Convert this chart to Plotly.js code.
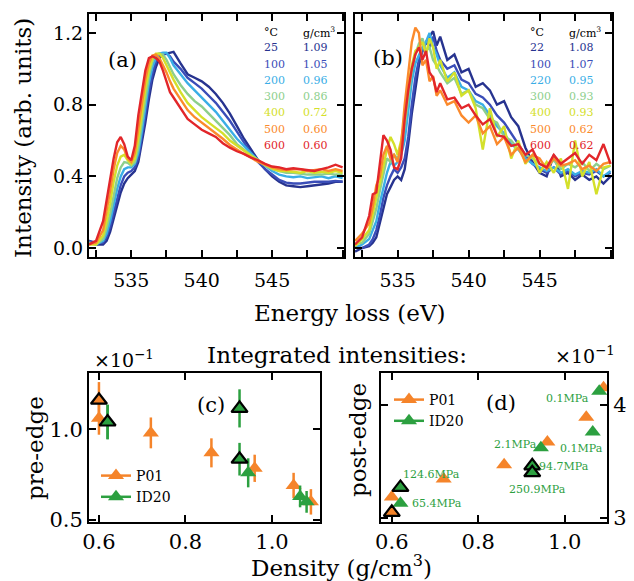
<!DOCTYPE html>
<html><head><meta charset="utf-8">
<script src="https://cdn.plot.ly/plotly-3.0.1.min.js"></script>
<style>html,body{margin:0;padding:0;background:#fff}#chart{width:634px;height:581px}</style>
</head><body><div id="chart"></div>
<script>
// ---------- data ----------
const energy = [532, 532.5, 533, 533.25, 533.5, 533.75, 534, 534.25, 534.5, 534.75, 535, 535.25, 535.5, 535.75, 536, 536.25, 536.5, 536.75, 537, 537.25, 537.5, 537.75, 538, 538.5, 539, 539.5, 540, 540.5, 541, 541.5, 542, 542.5, 543, 543.5, 544, 544.5, 545, 545.5, 546, 546.5, 547, 547.5, 548, 548.5, 549, 549.5, 550];
const energyTicks = [535, 540, 545];

// panel (a): P01 spectra
const tempsA = ['25', '100', '200', '300', '400', '500', '600'];
const densA = ['1.09', '1.05', '0.96', '0.86', '0.72', '0.60', '0.60'];
const a25  = [0.04,0.02,0.02,0.04,0.09,0.16,0.24,0.31,0.36,0.39,0.41,0.43,0.48,0.58,0.70,0.83,0.94,1.01,1.06,1.08,1.085,1.09,1.095,1.03,0.97,0.95,0.93,0.90,0.86,0.81,0.75,0.68,0.61,0.55,0.49,0.44,0.40,0.37,0.35,0.345,0.34,0.345,0.35,0.355,0.36,0.37,0.37];
const a100 = [0.04,0.03,0.03,0.06,0.12,0.20,0.28,0.35,0.40,0.42,0.43,0.45,0.50,0.61,0.74,0.87,0.97,1.04,1.075,1.085,1.085,1.07,1.04,1.00,0.95,0.92,0.89,0.85,0.81,0.76,0.71,0.65,0.59,0.53,0.48,0.44,0.41,0.38,0.365,0.36,0.36,0.365,0.37,0.37,0.37,0.375,0.37];
const a200 = [0.03,0.02,0.04,0.08,0.15,0.24,0.33,0.40,0.44,0.45,0.45,0.47,0.53,0.65,0.79,0.92,1.01,1.06,1.085,1.09,1.09,1.06,1.02,0.97,0.92,0.88,0.84,0.80,0.76,0.71,0.66,0.61,0.57,0.53,0.49,0.46,0.43,0.41,0.40,0.395,0.40,0.39,0.395,0.40,0.39,0.40,0.39];
const a300 = [0.03,0.02,0.05,0.11,0.19,0.30,0.39,0.45,0.48,0.475,0.46,0.48,0.56,0.70,0.84,0.96,1.04,1.08,1.085,1.08,1.05,1.01,0.97,0.91,0.86,0.82,0.79,0.75,0.71,0.67,0.63,0.58,0.55,0.52,0.49,0.46,0.44,0.43,0.42,0.42,0.415,0.41,0.41,0.41,0.415,0.41,0.41];
const a400 = [0.02,0.02,0.07,0.15,0.25,0.37,0.46,0.51,0.52,0.49,0.47,0.50,0.61,0.75,0.89,0.99,1.06,1.085,1.085,1.06,1.02,0.98,0.94,0.87,0.81,0.77,0.73,0.70,0.67,0.64,0.60,0.57,0.54,0.515,0.49,0.465,0.445,0.43,0.43,0.425,0.42,0.43,0.42,0.425,0.42,0.43,0.42];
const a500 = [0.02,0.03,0.10,0.20,0.32,0.44,0.53,0.57,0.55,0.50,0.48,0.53,0.67,0.81,0.94,1.03,1.075,1.08,1.06,1.02,0.98,0.93,0.89,0.83,0.77,0.73,0.70,0.67,0.645,0.61,0.575,0.55,0.525,0.505,0.48,0.465,0.45,0.44,0.435,0.44,0.44,0.43,0.435,0.44,0.43,0.44,0.43];
const a600 = [0.02,0.04,0.15,0.27,0.38,0.50,0.59,0.62,0.58,0.51,0.49,0.57,0.74,0.87,0.99,1.06,1.07,1.06,1.04,0.99,0.93,0.87,0.84,0.78,0.72,0.69,0.66,0.64,0.62,0.585,0.56,0.54,0.525,0.505,0.49,0.47,0.455,0.45,0.44,0.445,0.44,0.435,0.43,0.44,0.45,0.465,0.45];

// panel (b): ID20 spectra
const tempsB = ['22', '100', '220', '300', '400', '500', '600'];
const densB = ['1.08', '1.07', '0.95', '0.93', '0.93', '0.62', '0.62'];
const b22  = [-0.02,0.00,0.01,0.03,0.06,0.14,0.22,0.30,0.34,0.38,0.40,0.38,0.44,0.58,0.75,0.90,1.02,1.10,1.15,1.18,1.21,1.13,1.18,1.05,1.08,0.98,1.00,0.90,0.92,0.88,0.80,0.82,0.73,0.68,0.56,0.48,0.42,0.40,0.52,0.40,0.42,0.38,0.41,0.38,0.40,0.36,0.40];
const b100 = [0.01,0.00,0.02,0.05,0.10,0.18,0.28,0.35,0.40,0.44,0.42,0.45,0.50,0.62,0.80,0.95,1.05,1.10,1.15,1.12,1.18,1.10,1.05,1.00,1.02,0.94,0.92,0.86,0.84,0.80,0.74,0.70,0.64,0.58,0.52,0.47,0.44,0.42,0.45,0.41,0.43,0.40,0.42,0.41,0.43,0.40,0.42];
const b220 = [0.00,0.02,0.05,0.10,0.15,0.25,0.33,0.42,0.48,0.46,0.48,0.52,0.60,0.78,0.93,1.03,1.08,1.12,1.15,1.20,1.12,1.08,1.02,0.95,0.98,0.90,0.88,0.82,0.80,0.74,0.68,0.64,0.58,0.55,0.50,0.47,0.45,0.43,0.45,0.42,0.44,0.41,0.43,0.42,0.44,0.40,0.43];
const b300 = [0.02,0.03,0.08,0.15,0.22,0.32,0.42,0.50,0.48,0.52,0.50,0.55,0.68,0.85,0.99,1.08,1.14,1.17,1.10,1.12,1.05,1.02,0.98,0.92,0.95,0.86,0.88,0.80,0.78,0.72,0.70,0.62,0.60,0.55,0.52,0.50,0.47,0.45,0.49,0.44,0.47,0.45,0.48,0.43,0.47,0.44,0.46];
const b400 = [0.01,0.05,0.10,0.20,0.28,0.36,0.45,0.55,0.62,0.58,0.52,0.60,0.72,0.90,1.02,1.10,1.12,1.15,1.08,1.17,1.12,1.00,1.05,0.93,0.98,0.85,0.88,0.78,0.55,0.78,0.62,0.68,0.50,0.60,0.47,0.52,0.42,0.48,0.42,0.50,0.33,0.60,0.40,0.48,0.30,0.45,0.46];
const b500 = [0.04,0.08,0.14,0.23,0.35,0.40,0.52,0.57,0.50,0.52,0.48,0.58,0.80,0.98,1.15,1.23,1.20,1.02,1.05,0.93,0.96,0.85,0.88,0.80,0.82,0.74,0.70,0.74,0.64,0.68,0.58,0.62,0.52,0.56,0.48,0.52,0.50,0.44,0.50,0.46,0.47,0.49,0.44,0.46,0.43,0.47,0.48];
const b600 = [0.02,0.06,0.18,0.30,0.31,0.48,0.63,0.60,0.55,0.45,0.44,0.50,0.72,0.88,1.00,1.08,1.12,1.05,1.10,0.98,0.95,0.87,0.92,0.83,0.84,0.78,0.80,0.74,0.69,0.72,0.63,0.62,0.57,0.58,0.52,0.55,0.47,0.45,0.52,0.47,0.50,0.53,0.47,0.52,0.49,0.58,0.47];

// panels (c),(d): integrated intensities (x10^-1)
const p01Dens   = [0.60, 0.72, 0.86, 0.96, 1.05, 1.09];
const p01Pre    = [1.06, 0.98, 0.87, 0.785, 0.69, 0.60];
const p01PreErr = [0.09, 0.085, 0.08, 0.075, 0.07, 0.07];
const p01Post   = [3.186, 3.345, 3.47, 3.67, 3.89, 4.15];
const p01bDens   = [0.60];
const p01bPre    = [1.16];
const p01bPreErr = [0.10];
const p01bPost   = [3.05];
const id20Dens   = [0.62, 0.945, 1.065, 1.08];
const id20Pre    = [1.04, 0.76, 0.63, 0.60];
const id20PreErr = [0.095, 0.08, 0.06, 0.06];
const id20Post   = [3.13, 3.62, 3.76, 4.12];
const id20bDens   = [0.62, 0.925, 0.925];
const id20bPre    = [1.04, 1.115, 0.835];
const id20bPreErr = [0.095, 0.105, 0.09];
const id20bPost   = [3.27, 3.46, 3.40];
const pressLabels = ['0.1MPa', '0.1MPa', '2.1MPa', '94.7MPa', '250.9MPa', '124.6MPa', '65.4MPa'];

// ---------- styling ----------
const W = 634, H = 581;
const FONT = 'DejaVu Serif';
const specColors = ['#27338f', '#3a4db8', '#3aaee6', '#8dcf8c', '#d4e02a', '#fb8a2c', '#e2262a'];
const ORANGE = '#f5842a', GREEN = '#2ca040';
const px = x => x / W, py = y => 1 - y / H;

const traces = [];
const specA = [a25, a100, a200, a300, a400, a500, a600];
const specB = [b22, b100, b220, b300, b400, b500, b600];
specA.forEach((s, i) => traces.push({x: energy, y: s, xaxis: 'x', yaxis: 'y', mode: 'lines', showlegend: false,
  line: {color: specColors[i], width: 2.4}, name: tempsA[i] + ' °C'}));
specB.forEach((s, i) => traces.push({x: energy, y: s, xaxis: 'x2', yaxis: 'y2', mode: 'lines', showlegend: false,
  line: {color: specColors[i], width: 2.4}, name: tempsB[i] + ' °C'}));

const mk = (color, edge) => ({symbol: 'triangle-up', size: 14, color: color, line: {color: edge ? '#000' : color, width: edge ? 2.2 : 0}});
const eb = (arr, color) => ({type: 'data', array: arr, visible: true, color: color, thickness: 2.5, width: 0});
// (c)
traces.push({x: p01Dens, y: p01Pre, error_y: eb(p01PreErr, ORANGE), xaxis: 'x3', yaxis: 'y3', mode: 'markers', marker: mk(ORANGE, false), showlegend: false, name: 'P01'});
traces.push({x: id20Dens, y: id20Pre, error_y: eb(id20PreErr, GREEN), xaxis: 'x3', yaxis: 'y3', mode: 'markers', marker: mk(GREEN, false), showlegend: false, name: 'ID20'});
traces.push({x: p01bDens, y: p01bPre, error_y: eb(p01bPreErr, ORANGE), xaxis: 'x3', yaxis: 'y3', mode: 'markers', marker: mk(ORANGE, true), showlegend: false, name: 'P01'});
traces.push({x: id20bDens, y: id20bPre, error_y: eb(id20bPreErr, GREEN), xaxis: 'x3', yaxis: 'y3', mode: 'markers', marker: mk(GREEN, true), showlegend: false, name: 'ID20'});
// (d)
traces.push({x: p01Dens, y: p01Post, xaxis: 'x4', yaxis: 'y4', mode: 'markers', marker: mk(ORANGE, false), showlegend: false, name: 'P01'});
traces.push({x: id20Dens, y: id20Post, xaxis: 'x4', yaxis: 'y4', mode: 'markers', marker: mk(GREEN, false), showlegend: false, name: 'ID20'});
traces.push({x: p01bDens, y: p01bPost, xaxis: 'x4', yaxis: 'y4', mode: 'markers', marker: mk(ORANGE, true), showlegend: false, name: 'P01'});
traces.push({x: id20bDens, y: id20bPost, xaxis: 'x4', yaxis: 'y4', mode: 'markers', marker: mk(GREEN, true), showlegend: false, name: 'ID20'});
// legend-only entries
[['legend', 'x3', 'y3'], ['legend2', 'x4', 'y4']].forEach(([lg, xa, ya]) => {
  traces.push({x: [null], y: [null], xaxis: xa, yaxis: ya, mode: 'lines+markers', name: 'P01', legend: lg,
    line: {color: ORANGE, width: 2.5}, marker: {symbol: 'triangle-up', size: 14, color: ORANGE}});
  traces.push({x: [null], y: [null], xaxis: xa, yaxis: ya, mode: 'lines+markers', name: 'ID20', legend: lg,
    line: {color: GREEN, width: 2.5}, marker: {symbol: 'triangle-up', size: 14, color: GREEN}});
});

const axBase = {showline: true, linecolor: '#000', linewidth: 2, mirror: 'ticks', ticks: 'inside', ticklen: 7,
  tickwidth: 2, tickcolor: '#000', showgrid: false, zeroline: false, fixedrange: true};
const eMinor = {tickmode: 'linear', dtick: 2.5, tick0: 532.5, ticks: 'inside', ticklen: 7, tickwidth: 2, tickcolor: '#000', showgrid: false};
const topFont = {family: FONT, size: 19, color: '#000'};
const lowFont = {family: FONT, size: 21, color: '#000'};

const annotations = [];
const ann = (text, x, y, o) => annotations.push(Object.assign({text: text, x: px(x), y: py(y), xref: 'paper', yref: 'paper',
  showarrow: false, xanchor: 'center', yanchor: 'middle', font: {family: FONT, size: 23, color: '#000'}}, o || {}));

ann('Intensity (arb. units)', 23, 138, {textangle: -90});
ann('Energy loss (eV)', 350, 313);
ann('Density (g/cm<sup>3</sup>)', 341, 566);
ann('pre-edge', 35, 448, {textangle: -90});
ann('post-edge', 358, 440, {textangle: -90});
ann('×10<sup>−1</sup>', 92, 359, {xanchor: 'left', font: {family: FONT, size: 19, color: '#000'}});
ann('×10<sup>−1</sup>', 553, 355, {xanchor: 'left', font: {family: FONT, size: 19, color: '#000'}});
ann('(a)', 122, 60, {font: {family: FONT, size: 21, color: '#000'}});
ann('(b)', 388, 58, {font: {family: FONT, size: 21, color: '#000'}});
ann('(c)', 211, 405, {font: {family: FONT, size: 21, color: '#000'}});
ann('(d)', 501, 403, {font: {family: FONT, size: 21, color: '#000'}});

// temperature/density tables
const tblFont = c => ({family: FONT, size: 11, color: c});
[[tempsA, densA, 262, 301], [tempsB, densB, 528, 567]].forEach(([t, d, xT, xD]) => {
  ann('°C', xT, 32, {xanchor: 'left', font: tblFont('#000')});
  ann('g/cm<sup>3</sup>', xD, 32, {xanchor: 'left', font: tblFont('#000')});
  t.forEach((tv, i) => {
    ann(tv, xT, 48 + 16.2 * i, {xanchor: 'left', font: tblFont(specColors[i])});
    ann(d[i], xD, 48 + 16.2 * i, {xanchor: 'left', font: tblFont(specColors[i])});
  });
});

// pressure labels in (d)
const pressPos = [[567, 398], [581, 448], [515, 444], [564, 466], [537, 489], [431, 474], [437, 503]];
pressLabels.forEach((t, i) => ann(t, pressPos[i][0], pressPos[i][1], {font: {family: FONT, size: 11, color: GREEN}}));

const layout = {
  width: W, height: H, margin: {l: 0, r: 0, t: 0, b: 0}, paper_bgcolor: '#fff', plot_bgcolor: '#fff',
  font: {family: FONT, color: '#000'},
  title: {text: 'Integrated intensities:', x: px(337), y: py(355), xanchor: 'center', yanchor: 'middle', xref: 'paper', yref: 'paper',
    font: {family: FONT, size: 23, color: '#000'}},
  xaxis: Object.assign({}, axBase, {domain: [px(89), px(344)], range: [532, 550.1], anchor: 'y', tickmode: 'array', tickvals: energyTicks, ticktext: energyTicks.map(String), minor: eMinor, tickfont: topFont, ticklabelstandoff: 5}),
  yaxis: Object.assign({}, axBase, {domain: [py(257), py(14)], range: [-0.05, 1.306], anchor: 'x', tickvals: [0, 0.4, 0.8, 1.2], ticktext: ['0.0', '0.4', '0.8', '1.2'], tickfont: topFont}),
  xaxis2: Object.assign({}, axBase, {domain: [px(355), px(612)], range: [532, 550.1], anchor: 'y2', tickmode: 'array', tickvals: energyTicks, ticktext: energyTicks.map(String), minor: eMinor, tickfont: topFont, ticklabelstandoff: 5}),
  yaxis2: Object.assign({}, axBase, {domain: [py(257), py(14)], range: [-0.05, 1.306], anchor: 'x2', tickvals: [0, 0.4, 0.8, 1.2], showticklabels: false}),
  xaxis3: Object.assign({}, axBase, {domain: [px(89), px(320)], range: [0.577, 1.111], anchor: 'y3', tickvals: [0.6, 0.8, 1.0], ticktext: ['0.6', '0.8', '1.0'], tickfont: lowFont}),
  yaxis3: Object.assign({}, axBase, {domain: [py(522), py(373)], range: [0.489, 1.31], anchor: 'x3', tickvals: [0.5, 1.0], ticktext: ['0.5', '1.0'], tickfont: lowFont}),
  xaxis4: Object.assign({}, axBase, {domain: [px(381), px(607)], range: [0.575, 1.098], anchor: 'y4', tickvals: [0.6, 0.8, 1.0], ticktext: ['0.6', '0.8', '1.0'], tickfont: lowFont}),
  yaxis4: Object.assign({}, axBase, {domain: [py(522), py(373)], range: [2.965, 4.28], anchor: 'x4', side: 'right', tickvals: [3, 4], ticktext: ['3', '4'], tickfont: lowFont}),
  showlegend: true,
  legend: {x: px(96), y: py(460), xanchor: 'left', yanchor: 'top', bgcolor: 'rgba(0,0,0,0)', font: {family: FONT, size: 14, color: '#000'}},
  legend2: {x: px(389), y: py(384), xanchor: 'left', yanchor: 'top', bgcolor: 'rgba(0,0,0,0)', font: {family: FONT, size: 14, color: '#000'}},
  annotations: annotations
};

Plotly.newPlot('chart', traces, layout, {staticPlot: true, displayModeBar: false});
</script></body></html>
